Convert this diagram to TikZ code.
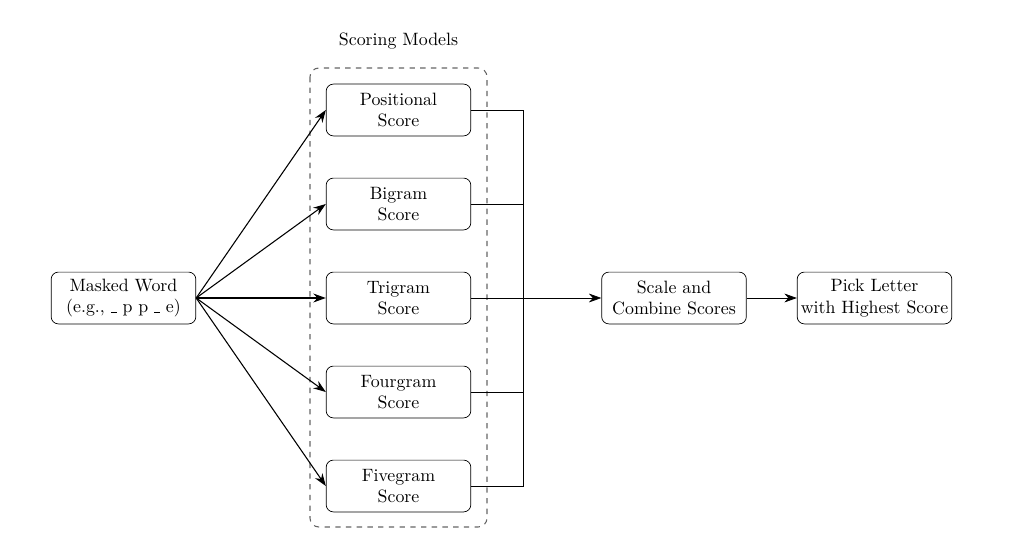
\documentclass[tikz,border=0pt]{standalone}
\usetikzlibrary{arrows.meta}
\newcommand{\blank}{\rule[-0.3pt]{0.32em}{0.5pt}}
\begin{document}
\begin{tikzpicture}[x=0.56pt,y=-0.56pt,
  box/.style={draw, rounded corners=4pt, minimum width=81pt, minimum height=29pt, align=center, inner xsep=2pt, inner ysep=3pt, font=\normalsize},
  fan/.style={-{Stealth[length=7pt,width=5pt]}, semithick},
  link/.style={-{Stealth[length=7pt,width=5pt]}},
  group/.style={draw=black!60, dashed, rounded corners=5pt, semithick}]
\useasboundingbox (0,0) rectangle (1021,539);
\draw[group] (310,68) rectangle (487,527);
\node (title) at (398.5,41) {Scoring Models};
\node[box] (mw) at (123.5,298) {Masked Word\\(e.g., \blank{} p p \blank{} e)};
\node[box] (pos) at (398.5,110) {Positional\\Score};
\node[box] (bi) at (398.5,204) {Bigram\\Score};
\node[box] (tri) at (398.5,298) {Trigram\\Score};
\node[box] (four) at (398.5,392) {Fourgram\\Score};
\node[box] (five) at (398.5,486) {Fivegram\\Score};
\node[box] (comb) at (674,298) {Scale and\\Combine Scores};
\node[box] (pick) at (874.5,298) {Pick Letter\\with Highest Score};
\coordinate (jt) at (523,110);
\coordinate (jb) at (523,486);
\foreach \n in {pos,bi,tri,four,five} \draw[fan] (mw.east) -- (\n.west);
\draw (pos.east) -- (jt) -- (jb) -- (five.east);
\draw (bi.east) -- (bi.east -| jt);
\draw (four.east) -- (four.east -| jt);
\draw[link] (tri.east) -- (comb.west);
\draw[link] (comb.east) -- (pick.west);
\end{tikzpicture}
\end{document}
